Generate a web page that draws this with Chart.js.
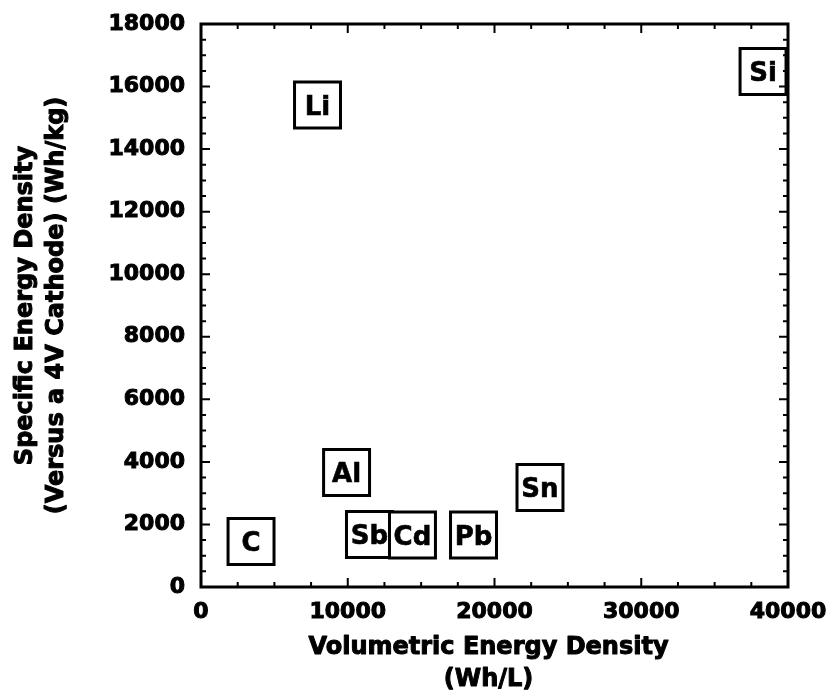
<!DOCTYPE html>
<html><head><meta charset="utf-8">
<script src="https://cdn.jsdelivr.net/npm/chart.js@4.4.1/dist/chart.umd.min.js"></script>
<style>html,body{margin:0;padding:0;background:#fff}#wrap{width:832px;height:695px}</style>
</head><body><div id="wrap"><canvas id="c" width="832" height="695"></canvas></div>
<script>
// ---- data ----
const elements   = ['C', 'Li', 'Al', 'Sb', 'Cd', 'Pb', 'Sn', 'Si'];
const volumetric = [3410, 7940, 9920, 11480, 14410, 18570, 23100, 38300];   // Wh/L
const specific   = [1455, 15410, 3660, 1680, 1660, 1660, 3180, 16480];      // Wh/kg
const xTickValues = [0, 10000, 20000, 30000, 40000];
const xTickLabels = ['0', '10000', '20000', '30000', '40000'];
const yTickValues = [0, 2000, 4000, 6000, 8000, 10000, 12000, 14000, 16000, 18000];
const yTickLabels = ['0', '2000', '4000', '6000', '8000', '10000', '12000', '14000', '16000', '18000'];
const xMinorStep = 2500;
const yMinorStep = 500;
const xTitle = ['Volumetric Energy Density', '(Wh/L)'];
const yTitle = ['Specific Energy Density', '(Versus a 4V Cathode) (Wh/kg)'];

const FONT = 'DejaVu Sans';
const TITLE_SIZE = 24, TITLE_LH = 31.2;

const labelPlugin = {
  id: 'boxLabels',
  afterDatasetsDraw(chart) {
    const ctx = chart.ctx, a = chart.chartArea;
    const meta = chart.getDatasetMeta(0);
    ctx.save();
    ctx.beginPath();
    ctx.rect(a.left, a.top, a.right - a.left, a.bottom - a.top);
    ctx.clip();
    ctx.fillStyle = '#000';
    ctx.strokeStyle = '#000';
    ctx.lineWidth = 0.6;
    ctx.font = 'bold 26px "' + FONT + '"';
    ctx.textAlign = 'center';
    ctx.textBaseline = 'alphabetic';
    meta.data.forEach((pt, i) => {
      ctx.fillText(elements[i], pt.x, pt.y + 9.5);
      ctx.strokeText(elements[i], pt.x, pt.y + 9.5);
    });
    ctx.restore();
  }
};

const framePlugin = {
  id: 'frame',
  afterDraw(chart) {
    const ctx = chart.ctx, a = chart.chartArea;
    const xs = chart.scales.x, ys = chart.scales.y;
    ctx.save();
    ctx.strokeStyle = '#000';
    ctx.lineWidth = 2;
    ctx.beginPath();
    for (let v = xs.min; v <= xs.max + 1e-6; v += xMinorStep) {
      const px = xs.getPixelForValue(v);
      const len = xTickValues.includes(v) ? 9 : 5;
      ctx.moveTo(px, a.bottom); ctx.lineTo(px, a.bottom - len);
      ctx.moveTo(px, a.top); ctx.lineTo(px, a.top + len);
    }
    for (let v = ys.min; v <= ys.max + 1e-6; v += yMinorStep) {
      const py = ys.getPixelForValue(v);
      const len = yTickValues.includes(v) ? 9 : 5;
      ctx.moveTo(a.left, py); ctx.lineTo(a.left + len, py);
      ctx.moveTo(a.right, py); ctx.lineTo(a.right - len, py);
    }
    ctx.stroke();
    ctx.lineWidth = 3;
    ctx.strokeRect(a.left, a.top, a.right - a.left, a.bottom - a.top);

    // axis titles (space reserved by the built-in scale titles)
    ctx.fillStyle = '#000';
    ctx.lineWidth = 1;
    ctx.lineJoin = 'round';
    ctx.font = 'bold ' + TITLE_SIZE + 'px "' + FONT + '"';
    ctx.textAlign = 'center';
    ctx.textBaseline = 'middle';
    const cx = (a.left + a.right) / 2 - 6;
    const h = chart.height;
    xTitle.forEach((t, i) => {
      const y = h - TITLE_LH / 2 - TITLE_LH * (xTitle.length - 1 - i);
      ctx.fillText(t, cx, y); ctx.strokeText(t, cx, y);
    });
    const cy = (a.top + a.bottom) / 2;
    yTitle.forEach((t, i) => {
      const x = 10 + TITLE_LH / 2 + TITLE_LH * i;
      ctx.save();
      ctx.translate(x, cy);
      ctx.rotate(-Math.PI / 2);
      ctx.fillText(t, 0, 0); ctx.strokeText(t, 0, 0);
      ctx.restore();
    });
    ctx.restore();
  }
};

const tickFont = { family: FONT, weight: 'bold', size: 22 };
const titleFont = { family: FONT, weight: 'bold', size: TITLE_SIZE, lineHeight: 1.3 };

new Chart(document.getElementById('c'), {
  type: 'scatter',
  data: {
    datasets: [{
      data: elements.map((e, i) => ({ x: volumetric[i], y: specific[i] })),
      pointStyle: 'rect',
      pointRadius: 32.5,
      pointHoverRadius: 32.5,
      backgroundColor: '#fff',
      borderColor: '#000',
      pointBorderWidth: 3,
      borderWidth: 3
    }]
  },
  options: {
    responsive: false,
    animation: false,
    events: [],
    layout: { autoPadding: false, padding: { top: 24, right: 44, left: 0, bottom: 0 } },
    plugins: { legend: { display: false }, tooltip: { enabled: false } },
    scales: {
      x: {
        type: 'linear', position: 'bottom', min: 0, max: 40000,
        afterBuildTicks(s) { s.ticks = xTickValues.map(v => ({ value: v })); },
        afterFit(s) { s.height = 108; s.paddingLeft = 0; s.paddingRight = 0; },
        ticks: {
          color: '#000', font: tickFont, padding: 12, maxRotation: 0, autoSkip: false,
          textStrokeColor: '#000', textStrokeWidth: 1,
          callback: v => xTickLabels[xTickValues.indexOf(v)]
        },
        grid: { display: false, drawTicks: false },
        border: { display: false },
        title: { display: true, text: xTitle, color: 'rgba(0,0,0,0)', font: titleFont, padding: { top: 0, bottom: 0 } }
      },
      y: {
        type: 'linear', position: 'left', min: 0, max: 18000,
        afterBuildTicks(s) { s.ticks = yTickValues.map(v => ({ value: v })); },
        afterFit(s) { s.width = 201; s.paddingTop = 0; s.paddingBottom = 0; },
        ticks: {
          color: '#000', font: tickFont, padding: 16, autoSkip: false,
          textStrokeColor: '#000', textStrokeWidth: 1,
          callback: v => yTickLabels[yTickValues.indexOf(v)]
        },
        grid: { display: false, drawTicks: false },
        border: { display: false },
        title: { display: true, text: yTitle, color: 'rgba(0,0,0,0)', font: titleFont, padding: { top: 10, bottom: 0 } }
      }
    }
  },
  plugins: [labelPlugin, framePlugin]
});
</script>
</body></html>
